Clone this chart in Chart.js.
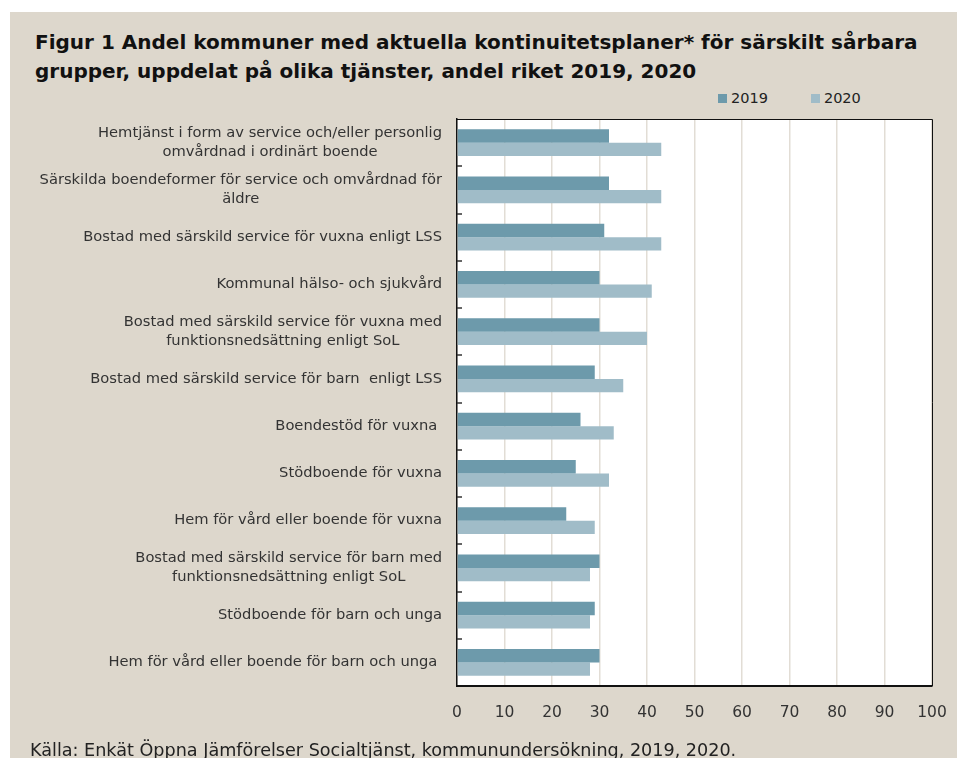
<!DOCTYPE html>
<html>
<head>
<meta charset="utf-8">
<script src="https://cdn.jsdelivr.net/npm/chart.js@4.4.0/dist/chart.umd.min.js"></script>
<style>
body { margin: 0; width: 957px; height: 758px; overflow: hidden; position: relative; background: #fff; font-family: "DejaVu Sans", sans-serif; }
#bg { position: absolute; left: 10px; top: 12px; right: 0; bottom: 0; background: #ddd7cc; }
#title { position: absolute; left: 35px; top: 28px; font: bold 20px "DejaVu Sans", sans-serif; line-height: 29px; color: #111; white-space: nowrap; }
#legend { position: absolute; left: 718px; top: 90px; font-size: 14.5px; color: #222; display: flex; }
#legend span.item { display: flex; align-items: center; margin-right: 43px; }
#legend span.box { width: 9px; height: 9px; margin-right: 4px; }
#source { position: absolute; left: 30px; top: 740px; font-size: 17.6px; color: #222; white-space: nowrap; }
#wrap { position: absolute; left: 0; top: 0; width: 957px; height: 758px; }
</style>
</head>
<body>
<div id="bg"></div>
<div id="title">Figur 1 Andel kommuner med aktuella kontinuitetsplaner* för särskilt sårbara<br>grupper, uppdelat på olika tjänster, andel riket 2019, 2020</div>
<div id="legend"></div>
<div id="wrap"><canvas id="chart"></canvas></div>
<div id="source">Källa: Enkät Öppna Jämförelser Socialtjänst, kommunundersökning, 2019, 2020.</div>
<script>
const categories = [
    ["Hemtjänst i form av service och/eller personlig", "omvårdnad i ordinärt boende"],
    ["Särskilda boendeformer för service och omvårdnad för", "äldre"],
    ["Bostad med särskild service för vuxna enligt LSS"],
    ["Kommunal hälso- och sjukvård"],
    ["Bostad med särskild service för vuxna med", "funktionsnedsättning enligt SoL"],
    ["Bostad med särskild service för barn  enligt LSS"],
    ["Boendestöd för vuxna "],
    ["Stödboende för vuxna"],
    ["Hem för vård eller boende för vuxna"],
    ["Bostad med särskild service för barn med", "funktionsnedsättning enligt SoL"],
    ["Stödboende för barn och unga"],
    ["Hem för vård eller boende för barn och unga "]
];
const values2019 = [32, 32, 31, 30, 30, 29, 26, 25, 23, 30, 29, 30];
const values2020 = [43, 43, 43, 41, 40, 35, 33, 32, 29, 28, 28, 28];
const seriesNames = ["2019", "2020"];
const seriesColors = ["#6d9aab", "#a0bcc8"];
const xTicks = [0, 10, 20, 30, 40, 50, 60, 70, 80, 90, 100];

// legend in html
const legendEl = document.getElementById("legend");
seriesNames.forEach((name, i) => {
    legendEl.innerHTML += '<span class="item"><span class="box" style="background:' + seriesColors[i] + '"></span>' + name + '</span>';
});

// white plot area, frame, small category ticks and y labels
const plotDecor = {
    id: "plotDecor",
    beforeDraw(chart) {
        const a = chart.chartArea, c = chart.ctx;
        c.save();
        c.fillStyle = "#fff";
        c.fillRect(a.left, a.top, a.right - a.left, a.bottom - a.top);
        c.restore();
    },
    afterDraw(chart) {
        const a = chart.chartArea, c = chart.ctx, y = chart.scales.y;
        c.save();
        c.strokeStyle = "#111";
        c.lineWidth = 1;
        c.beginPath();
        c.moveTo(a.left, a.top + 0.5); c.lineTo(a.right + 0.5, a.top + 0.5);
        c.lineTo(a.right + 0.5, a.bottom);
        c.stroke();
        c.strokeStyle = "#333";
        c.lineWidth = 1.5;
        for (let i = 1; i < categories.length; i++) {
            const py = Math.round((y.getPixelForValue(i - 1) + y.getPixelForValue(i)) / 2);
            c.beginPath();
            c.moveTo(a.left, py); c.lineTo(a.left + 5, py);
            c.stroke();
        }
        c.fillStyle = "#333";
        c.font = "14.7px 'DejaVu Sans'";
        c.textAlign = "center";
        c.textBaseline = "middle";
        const lineH = 19, right = 442;
        categories.forEach((lines, i) => {
            const cy = y.getPixelForValue(i);
            const w = Math.max(...lines.map(l => c.measureText(l).width));
            lines.forEach((l, j) => {
                c.fillText(l, right - w / 2, cy + (j - (lines.length - 1) / 2) * lineH);
            });
        });
        c.restore();
    }
};

const ctx = document.getElementById("chart").getContext("2d");
const chart = new Chart(ctx, {
    type: "bar",
    data: {
        labels: categories,
        datasets: [{
            label: seriesNames[0],
            data: values2019,
            backgroundColor: seriesColors[0],
            categoryPercentage: 0.565,
            barPercentage: 1
        }, {
            label: seriesNames[1],
            data: values2020,
            backgroundColor: seriesColors[1],
            categoryPercentage: 0.565,
            barPercentage: 1
        }]
    },
    options: {
        indexAxis: "y",
        responsive: true,
        maintainAspectRatio: false,
        animation: false,
        layout: { padding: { top: 119, right: 25, bottom: 32, left: 0 } },
        plugins: { legend: { display: false }, title: { display: false }, tooltip: { enabled: false } },
        scales: {
            x: {
                min: 0,
                max: 100,
                afterBuildTicks: (scale) => { scale.ticks = xTicks.map(v => ({ value: v })); },
                afterFit: (scale) => { scale.height = 40; scale.paddingRight = 0; scale.paddingLeft = 0; },
                grid: { color: "#e2ddd5", lineWidth: 1.5, drawTicks: false },
                border: { color: "#111", width: 2 },
                ticks: { color: "#333", font: { family: "DejaVu Sans", size: 15.5 }, padding: 18 }
            },
            y: {
                afterFit: (scale) => { scale.width = 457; },
                grid: { display: false },
                border: { color: "#111", width: 1.5 },
                ticks: { display: false }
            }
        }
    },
    plugins: [plotDecor]
});
</script>
</body>
</html>
